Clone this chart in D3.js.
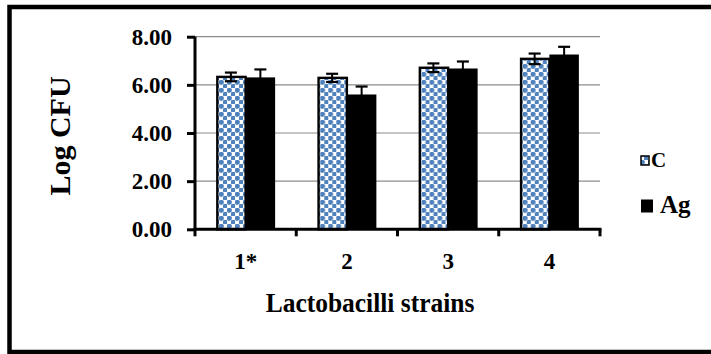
<!DOCTYPE html>
<html>
<head>
<meta charset="utf-8">
<script src="https://cdn.jsdelivr.net/npm/d3@7"></script>
<style>
  html, body { margin: 0; padding: 0; background: #fff; }
  svg { display: block; }
  text { font-family: "Liberation Serif", "Times New Roman", serif; font-weight: bold; fill: #000; }
</style>
</head>
<body>
<svg id="chart" width="711" height="354"></svg>
<script>
// Strains on the x axis and the two series (control and Ag-treated)
const strains = ["1*", "2", "3", "4"];
const seriesNames = ["C", "Ag"];
const controlValues = [6.33, 6.29, 6.71, 7.08];
const controlErrors = [0.18, 0.17, 0.18, 0.22];
const agValues = [6.31, 5.60, 6.68, 7.26];
const agErrors = [0.33, 0.33, 0.29, 0.32];
const yTicks = [0, 2, 4, 6, 8];

const rows = strains.map((s, i) => ({
  strain: s,
  bars: [
    { key: "C", value: controlValues[i], err: controlErrors[i] },
    { key: "Ag", value: agValues[i], err: agErrors[i] }
  ]
}));

const svg = d3.select("#chart");

// Blue checker pattern used for the control bars
const defs = svg.append("defs");
const pat = defs.append("pattern")
  .attr("id", "checker")
  .attr("patternUnits", "userSpaceOnUse")
  .attr("width", 8).attr("height", 8);
pat.append("rect").attr("width", 8).attr("height", 8).attr("fill", "#ffffff");
pat.append("rect").attr("x", 0).attr("y", 0).attr("width", 4.5).attr("height", 4.5).attr("rx", 1.3).attr("fill", "#4f81bd");
pat.append("rect").attr("x", 4).attr("y", 4).attr("width", 4.5).attr("height", 4.5).attr("rx", 1.3).attr("fill", "#4f81bd");
pat.append("rect").attr("x", 3.5).attr("y", 1.5).attr("width", 1.5).attr("height", 1.2).attr("fill", "#4f81bd");
pat.append("rect").attr("x", 1.5).attr("y", 3.5).attr("width", 1.2).attr("height", 1.5).attr("fill", "#4f81bd");

// Outer frame
svg.append("rect")
  .attr("x", 9.5).attr("y", 7)
  .attr("width", 720).attr("height", 345)
  .attr("fill", "none").attr("stroke", "#000").attr("stroke-width", 4.5);

const plot = { left: 195, right: 600, top: 36.7, bottom: 229.3 };

const x0 = d3.scaleBand().domain(strains).range([plot.left, plot.right]).padding(0);
const x1 = d3.scaleBand().domain(seriesNames).range([0, x0.bandwidth()]).paddingInner(0).paddingOuter(0.716);
const y = d3.scaleLinear().domain([0, 8]).range([plot.bottom, plot.top]);

// Horizontal gridlines
svg.append("g").selectAll("line")
  .data(yTicks.filter(t => t > 0))
  .join("line")
  .attr("x1", plot.left).attr("x2", plot.right)
  .attr("y1", d => y(d)).attr("y2", d => y(d))
  .attr("stroke", "#8c8c8c").attr("stroke-width", 1.2);

// Bars
const groups = svg.append("g").selectAll("g")
  .data(rows)
  .join("g")
  .attr("transform", d => `translate(${x0(d.strain)},0)`);

groups.selectAll("rect")
  .data(d => d.bars)
  .join("rect")
  .attr("x", d => x1(d.key) + (d.key === "C" ? 1.2 : 0))
  .attr("y", d => y(d.value))
  .attr("width", d => x1.bandwidth() - (d.key === "C" ? 1.2 : 0))
  .attr("height", d => y(0) - y(d.value))
  .attr("fill", d => d.key === "C" ? "url(#checker)" : "#000")
  .attr("stroke", "#000")
  .attr("stroke-width", d => d.key === "C" ? 2.4 : 0);

// Error bars
const eb = groups.selectAll("g.err")
  .data(d => d.bars)
  .join("g").attr("class", "err")
  .attr("transform", d => `translate(${x1(d.key) + x1.bandwidth() / 2},0)`);
eb.append("line")
  .attr("x1", 0).attr("x2", 0)
  .attr("y1", d => y(d.value - d.err)).attr("y2", d => y(d.value + d.err))
  .attr("stroke", "#000").attr("stroke-width", 2);
eb.selectAll("line.cap")
  .data(d => [d.value + d.err, d.value - d.err])
  .join("line").attr("class", "cap")
  .attr("x1", -6).attr("x2", 6)
  .attr("y1", v => y(v)).attr("y2", v => y(v))
  .attr("stroke", "#000").attr("stroke-width", 2.2);

// Y axis
const yAxis = svg.append("g")
  .attr("transform", `translate(${plot.left},0)`)
  .call(d3.axisLeft(y).tickValues(yTicks).tickFormat(d3.format(".2f")).tickSize(8).tickPadding(15));
yAxis.select(".domain").attr("stroke-width", 3).attr("d", `M0,${plot.top}V${plot.bottom + 1.5}`);
yAxis.selectAll(".tick line").attr("stroke-width", 3);
yAxis.selectAll(".tick text")
  .style("font-size", "23px")
  .style("font-family", "'Liberation Serif', serif")
  .style("font-weight", "bold");

// X axis with ticks at the category boundaries
const xAxisG = svg.append("g").attr("transform", `translate(0,${plot.bottom})`);
xAxisG.append("line")
  .attr("x1", plot.left - 1.5).attr("x2", plot.right + 1.5)
  .attr("stroke", "#000").attr("stroke-width", 3);
const boundaries = strains.map(s => x0(s)).concat([x0(strains[strains.length - 1]) + x0.bandwidth()]);
xAxisG.selectAll("line.tk")
  .data(boundaries)
  .join("line").attr("class", "tk")
  .attr("x1", d => d).attr("x2", d => d)
  .attr("y1", 0).attr("y2", 7)
  .attr("stroke", "#000").attr("stroke-width", 3);
xAxisG.selectAll("text")
  .data(strains)
  .join("text")
  .attr("x", d => x0(d) + x0.bandwidth() / 2)
  .attr("y", 40)
  .attr("text-anchor", "middle")
  .style("font-size", "23px")
  .text(d => d);

// Axis titles
svg.append("text")
  .attr("transform", "translate(70,136) rotate(-90)")
  .attr("text-anchor", "middle")
  .style("font-size", "30px")
  .text("Log CFU");

svg.append("text")
  .attr("transform", "translate(370,312) scale(0.91,1)")
  .attr("text-anchor", "middle")
  .style("font-size", "28px")
  .text("Lactobacilli strains");

// Legend
const legend = svg.append("g");
legend.append("rect")
  .attr("x", 641).attr("y", 156).attr("width", 8).attr("height", 9)
  .attr("fill", "url(#checker)").attr("stroke", "#000").attr("stroke-width", 1.5);
legend.append("text").attr("x", 651).attr("y", 167).style("font-size", "21px").text("C");
legend.append("rect")
  .attr("x", 641).attr("y", 199.5).attr("width", 12).attr("height", 13)
  .attr("fill", "#000");
legend.append("text").attr("x", 660).attr("y", 213).style("font-size", "25px").text("Ag");
</script>
</body>
</html>
